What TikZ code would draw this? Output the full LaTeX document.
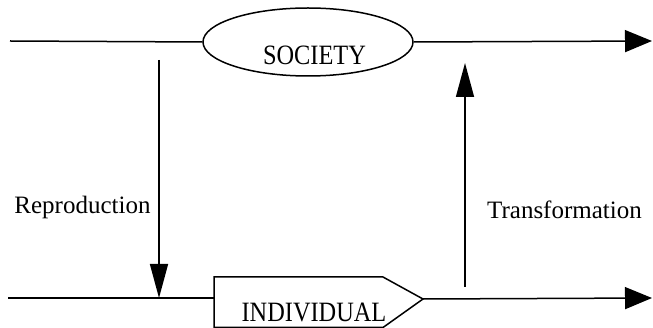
\documentclass[tikz,border=0pt]{standalone}
\usepackage{fontspec}
\setmainfont{Liberation Serif}
\usetikzlibrary{arrows.meta,shapes.geometric}
\tikzset{
  ln/.style={line width=1.5pt},
  arr/.style={line width=1.5pt,-{Triangle[length=34pt,width=18pt]}},
  harr/.style={line width=1.5pt,-{Triangle[length=27pt,width=22pt]}},
  lab/.style={inner sep=0pt,anchor=base,font=\fontsize{25}{25}\selectfont},
  caplab/.style={inner sep=0pt,anchor=base,font=\fontsize{28}{28}\selectfont},
  soc/.style={ellipse,draw,line width=1.5pt,minimum width=210pt,minimum height=68pt,inner sep=0pt}
}
\begin{document}
\begin{tikzpicture}[x=1pt,y=-1pt]
\useasboundingbox (0,0) rectangle (653,328);
% society
\node[soc] (society) at (308,42) {};
\node[caplab] (soctext) at (314.5,65) {\scalebox{0.87}[1]{SOCIETY}};
\coordinate (tl) at (10,41);
\coordinate (tr) at (652,41);
\draw[ln] (tl) -- (society.west);
\draw[harr] (society.east) -- (tr);
% individual
\coordinate (indW) at (214,298);
\coordinate (indE) at (423,299);
\draw[ln] (214,327.5) -- (214,277) -- (383,277) -- (indE) -- (383,327.5) -- cycle;
\node[caplab] (indtext) at (314,322) {\scalebox{0.87}[1]{INDIVIDUAL}};
\coordinate (bl) at (8,298);
\coordinate (br) at (652,298);
\draw[ln] (bl) -- (indW);
\draw[harr] (indE) -- (br);
% vertical arrows
\coordinate (rtop) at (159,60);
\coordinate (rbot) at (159,298);
\draw[arr] (rtop) -- (rbot);
\coordinate (tbot) at (465,287);
\coordinate (ttop) at (465,63);
\draw[arr] (tbot) -- (ttop);
% labels
\node[lab] (repro) at (82.5,214) {Reproduction};
\node[lab] (trans) at (564.5,219) {Transformation};
\end{tikzpicture}
\end{document}
